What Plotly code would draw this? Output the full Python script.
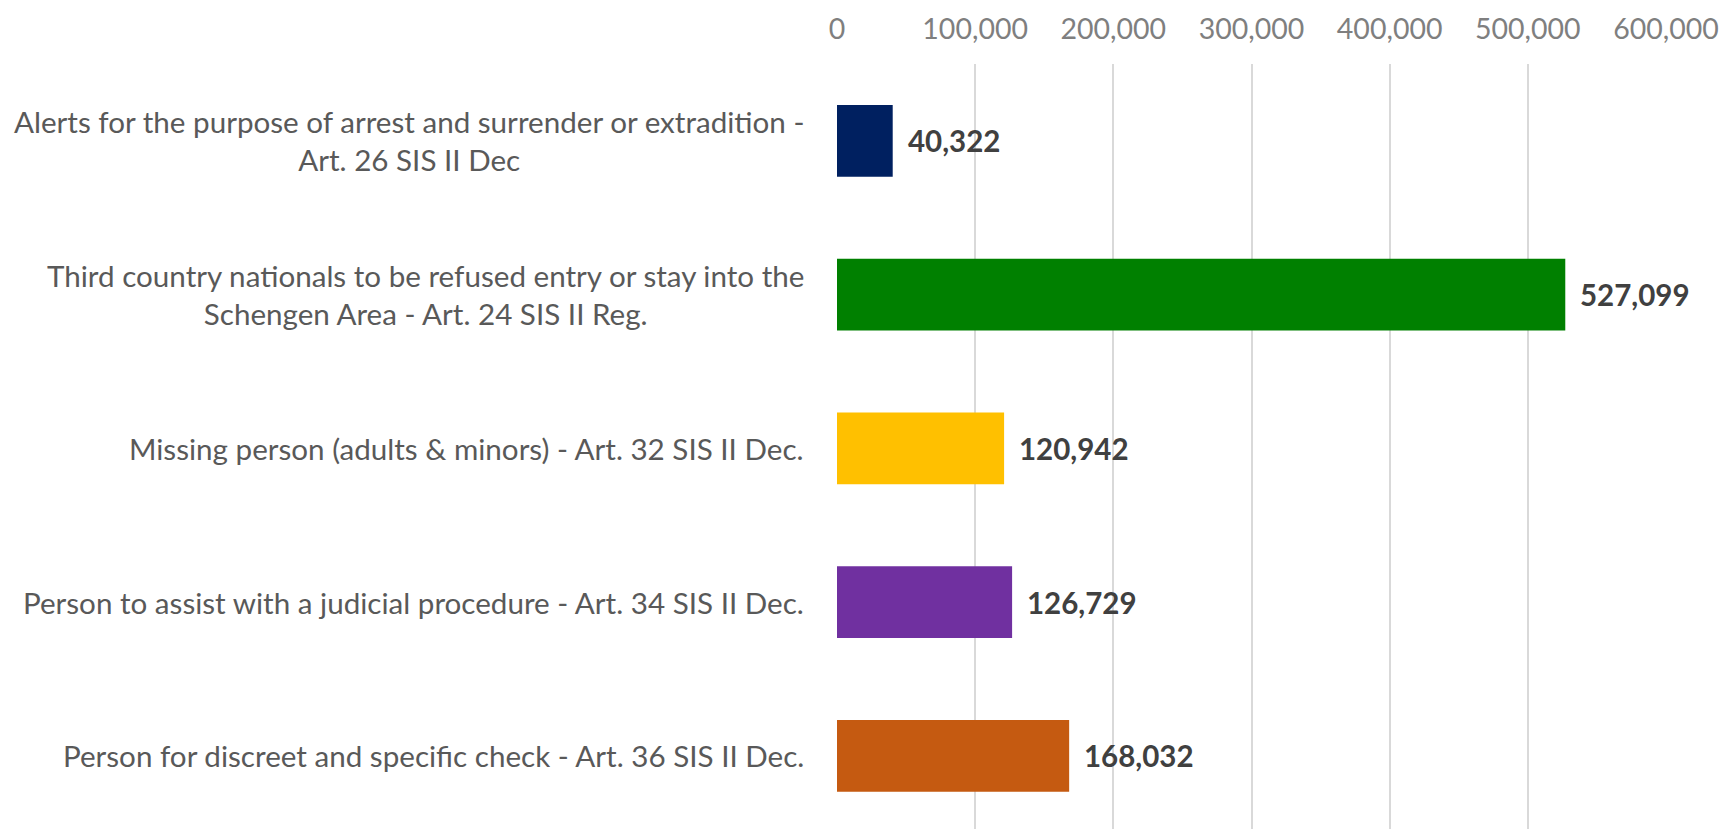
import plotly.graph_objects as go

categories = [
    "Alerts for the purpose of arrest and surrender or extradition -<br>Art. 26 SIS II Dec",
    "Third country nationals to be refused entry or stay into the<br>Schengen Area - Art. 24 SIS II Reg.",
    "Missing person (adults & minors) - Art. 32 SIS II Dec.",
    "Person to assist with a judicial procedure - Art. 34 SIS II Dec.",
    "Person for discreet and specific check - Art. 36 SIS II Dec.",
]
values = [40322, 527099, 120942, 126729, 168032]
colors = ["#002060", "#008000", "#FFC000", "#7030A0", "#C55A11"]
tick_vals = [0, 100000, 200000, 300000, 400000, 500000, 600000]
tick_text = ["0", "100,000", "200,000", "300,000", "400,000", "500,000", "600,000"]

FONT = "Lato"

fig = go.Figure()
fig.add_trace(go.Bar(
    x=values,
    y=list(range(len(categories))),
    orientation="h",
    marker=dict(color=colors, line=dict(width=0)),
    hoverinfo="skip",
))

annotations = []
for i, (cat, v) in enumerate(zip(categories, values)):
    annotations.append(dict(
        x=0, xref="paper", y=i, yref="y", xanchor="right", yanchor="middle",
        xshift=-31, text=cat, showarrow=False, align="center",
        font=dict(family=FONT, size=29.6, color="#595959"),
    ))
    annotations.append(dict(
        x=v, xref="x", y=i, yref="y", xanchor="left", yanchor="middle",
        xshift=13, text=f"<b>{v:,}</b>", showarrow=False,
        font=dict(family=FONT, size=29.5, color="#404040"),
    ))

fig.update_layout(
    width=1728, height=821,
    margin=dict(l=829, r=69.5, t=56, b=0),
    paper_bgcolor="white", plot_bgcolor="white",
    bargap=0.532,
    showlegend=False,
    annotations=annotations,
    xaxis=dict(
        side="top", range=[0, 600000], tickvals=tick_vals, ticktext=tick_text,
        showgrid=True, gridcolor="#d9d9d9", gridwidth=1.5,
        zeroline=False, showline=False, ticks="",
        ticklabelstandoff=18, automargin=False,
        tickfont=dict(family=FONT, size=28.5, color="#7f7f7f"),
    ),
    yaxis=dict(
        range=[4.4756, -0.5], autorange=False, showticklabels=False,
        showgrid=False, zeroline=False, showline=False, ticks="",
        automargin=False,
    ),
)

fig.write_html("out.html")
